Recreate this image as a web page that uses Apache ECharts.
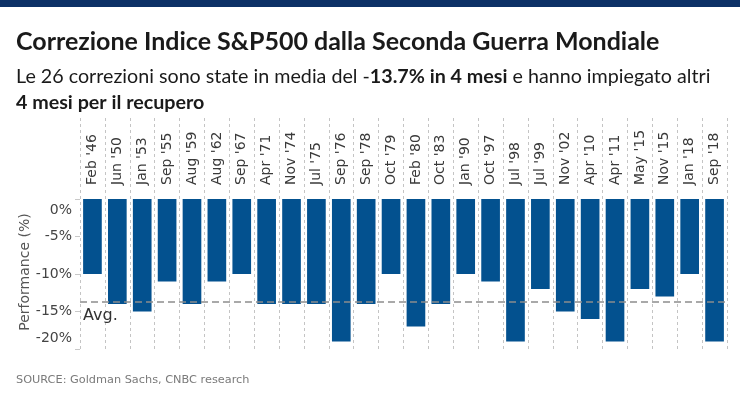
<!DOCTYPE html>
<html>
<head>
<meta charset="utf-8">
<script src="https://cdn.jsdelivr.net/npm/echarts@6/dist/echarts.min.js"></script>
<style>
html,body{margin:0;padding:0;background:#fff;}
#c{width:740px;height:406px;}
</style>
</head>
<body>
<div id="c"></div>
<script>
const categories = ["Feb '46","Jun '50","Jan '53","Sep '55","Aug '59","Aug '62","Sep '67","Apr '71","Nov '74","Jul '75","Sep '76","Sep '78","Oct '79","Feb '80","Oct '83","Jan '90","Oct '97","Jul '98","Jul '99","Nov '02","Apr '10","Apr '11","May '15","Nov '15","Jan '18","Sep '18"];
const performance = [-10,-14,-15,-11,-14,-11,-10,-14,-14,-14,-19,-14,-10,-17,-14,-10,-11,-19,-12,-15,-16,-19,-12,-13,-10,-19];
const averageValue = -13.7;
const yTicks = [0,-5,-10,-15,-20];

const chart = echarts.init(document.getElementById('c'), null, {renderer:'canvas'});
const labelFont = "'DejaVu Sans', sans-serif";
chart.setOption({
  animation:false,
  backgroundColor:'#fff',
  title:[{
    text:'Correzione Indice S&P500 dalla Seconda Guerra Mondiale',
    left:16, top:29, padding:0,
    textStyle:{fontFamily:"Lato, sans-serif", fontWeight:'bold', fontSize:25, color:'#1a1a1a'}
  },{
    text:'{n|Le 26 correzioni sono state in media del -}{b|13.7% in 4 mesi}{n| e hanno impiegato altri}\n{b|4 mesi per il recupero}',
    left:16, top:64, padding:0,
    textStyle:{
      fontWeight:'normal',
      rich:{
        n:{fontFamily:"Lato, sans-serif", fontSize:19.7, fontWeight:'normal', color:'#1a1a1a', lineHeight:26},
        b:{fontFamily:"Lato, sans-serif", fontSize:19.7, fontWeight:'bold', color:'#1a1a1a', lineHeight:26}
      }
    }
  },{
    text:'SOURCE: Goldman Sachs, CNBC research',
    left:16, top:375, padding:0,
    textStyle:{fontFamily:labelFont, fontSize:11.3, fontWeight:'normal', color:'#7a7a7a'}
  }],
  graphic:[{
    type:'rect', left:0, top:0, shape:{width:740, height:7}, style:{fill:'#0c3166'}
  },{
    type:'text', x:25, y:272, rotation:Math.PI/2,
    style:{text:'Performance (%)', font:"14px 'DejaVu Sans', sans-serif", fill:'#555', align:'center', verticalAlign:'middle'}
  }],
  grid:{left:80, right:13, top:118, bottom:57, containLabel:false},
  xAxis:{
    type:'category', data:categories, position:'top', offset:-67,
    axisLine:{show:false}, axisTick:{show:false},
    axisLabel:{rotate:90, interval:0, margin:0, fontFamily:labelFont, fontSize:14, color:'#3a3a3a', align:'left', verticalAlign:'middle'},
    splitLine:{show:true, interval:0, lineStyle:{color:'#c4c4c4', type:[3,3], width:1}}
  },
  yAxis:{
    type:'value', min:-20, max:10.8, interval:5,
    axisLine:{show:false},
    axisTick:{show:true, length:5, customValues:yTicks, lineStyle:{color:'#c8c8c8'}},
    splitLine:{show:false},
    axisLabel:{
      customValues:yTicks, margin:8,
      fontFamily:labelFont, fontSize:14, color:'#444',
      formatter:function(v){
        if(v===0) return '{t|0%}';
        if(v===-20) return '{d|-20%}';
        return v+'%';
      },
      rich:{
        t:{fontFamily:labelFont, fontSize:14, color:'#444', padding:[22,0,0,0]},
        d:{fontFamily:labelFont, fontSize:14, color:'#444', padding:[0,0,22,0]}
      }
    }
  },
  series:[{
    type:'bar', data:performance, barCategoryGap:'25%',
    itemStyle:{color:'#03518f'},
    markLine:{
      silent:true, symbol:'none', z:10,
      lineStyle:{color:'rgba(140,140,140,0.75)', type:[7,4], width:2},
      label:{show:true, position:'insideStartBottom', formatter:'Avg.', fontFamily:labelFont, fontSize:16, color:'#333', distance:[3,6]},
      data:[{yAxis:averageValue}]
    }
  }]
});
</script>
</body>
</html>
